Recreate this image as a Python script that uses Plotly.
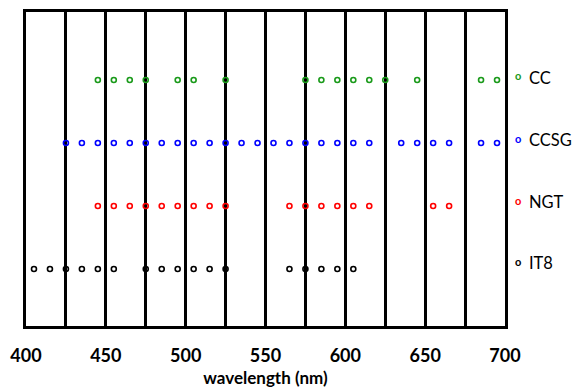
import plotly.graph_objects as go

# Data (wavelength in nm)
series_names = ["CC", "CCSG", "NGT", "IT8"]
series_colors = ["#1a9a1a", "#0000ff", "#ff0000", "#000000"]
row_positions = [4, 3, 2, 1]

cc_wl = [445, 455, 465, 475, 495, 505, 525, 575, 585, 595, 605, 615, 625, 645, 685, 695]
ccsg_wl = [425, 435, 445, 455, 465, 475, 485, 495, 505, 515, 525, 535, 545, 555, 565,
           575, 585, 595, 605, 615, 635, 645, 655, 665, 685, 695]
ngt_wl = [445, 455, 465, 475, 485, 495, 505, 515, 525, 565, 575, 585, 595, 605, 615, 655, 665]
it8_wl = [405, 415, 425, 435, 445, 455, 475, 485, 495, 505, 515, 525, 565, 575, 585, 595, 605]

all_wl = [cc_wl, ccsg_wl, ngt_wl, it8_wl]
tick_vals = [400, 450, 500, 550, 600, 650, 700]

W, H = 573, 390
L, R, T, B = 26, 68, 12, 64
plot_w, plot_h = W - L - R, H - T - B

def px_to_paper_x(px):
    return (px - L) / plot_w

def px_to_paper_y(py):
    return (H - B - py) / plot_h

fig = go.Figure()
for name, color, row, wl in zip(series_names, series_colors, row_positions, all_wl):
    fig.add_trace(go.Scatter(
        x=wl, y=[row] * len(wl), mode="markers", name=name, showlegend=False,
        marker=dict(symbol="circle-open", size=5, color=color, line=dict(width=1.6, color=color)),
        cliponaxis=False,
    ))

font_family = "Lato, 'Open Sans', sans-serif"

# legend-like labels on the right (positions in pixels of the layout)
legend_px_y = [78, 140, 202, 263]
annotations = []
for name, color, py in zip(series_names, series_colors, legend_px_y):
    annotations.append(dict(
        xref="paper", yref="paper", x=px_to_paper_x(518), y=px_to_paper_y(py - 2),
        xanchor="center", yanchor="middle", showarrow=False,
        text="<b>o</b>", font=dict(family="Lato", size=11, color=color),
    ))
    annotations.append(dict(
        xref="paper", yref="paper", x=px_to_paper_x(527), y=px_to_paper_y(py),
        xanchor="left", yanchor="middle", showarrow=False,
        text=name, font=dict(family=font_family, size=16.5, color="black"),
    ))

fig.update_layout(
    width=W, height=H,
    margin=dict(l=L, r=R, t=T, b=B, pad=0, autoexpand=False),
    plot_bgcolor="white", paper_bgcolor="white",
    font=dict(family=font_family, color="black"),
    showlegend=False,
    annotations=annotations,
    xaxis=dict(range=[400, 700], tickvals=tick_vals, ticks="", showgrid=True,
               gridcolor="black", gridwidth=3,
               minor=dict(dtick=25, tick0=400, showgrid=True, gridcolor="black", gridwidth=3),
               showline=True, linecolor="black", linewidth=2.5, mirror=True,
               tickfont=dict(size=18, family=font_family, weight="bold"),
               ticklabelstandoff=12, zeroline=False,
               title=dict(text="<b>wavelength (nm)</b>", font=dict(size=17), standoff=7)),
    yaxis=dict(range=[0.095, 5.08], showticklabels=False, showgrid=False, zeroline=False,
               showline=True, linecolor="black", linewidth=2.5, mirror=True, ticks=""),
)

fig.write_html("out.html", config={"displayModeBar": False},
               post_script="document.body.style.margin='0';")
